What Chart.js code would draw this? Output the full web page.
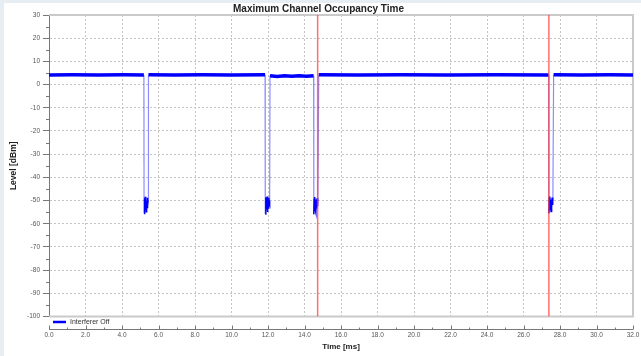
<!DOCTYPE html>
<html>
<head>
<meta charset="utf-8">
<title>Maximum Channel Occupancy Time</title>
<script src="https://cdn.jsdelivr.net/npm/chart.js@4.4.1/dist/chart.umd.min.js"></script>
<style>
    html, body { margin: 0; padding: 0; background: #e6eef3; overflow: hidden; }
    #panel { position: absolute; left: 4px; top: 3px; width: 637px; height: 353px; background: #fff; }
    #occupancyChart { display: block; }
</style>
</head>
<body>
<div id="panel"><canvas id="occupancyChart" width="637" height="353"></canvas></div>
<script>
// ==========================================
// DATA
// ==========================================

// Measured trace: time (ms) and level (dBm)
const traceTime = [
    0.0, 1.3, 2.7, 4.1, 5.20,
    5.21, 5.23, 5.25, 5.27, 5.29, 5.31, 5.33, 5.35, 5.37, 5.39, 5.41, 5.43,
    5.45, 6.9, 8.4, 10.0, 11.84,
    11.85, 11.87, 11.89, 11.91, 11.93, 11.95, 11.97, 11.99, 12.01, 12.03, 12.05, 12.07, 12.09,
    12.11, 12.5, 12.9, 13.3, 13.7, 14.1, 14.50,
    14.51, 14.53, 14.55, 14.57, 14.59, 14.61, 14.63, 14.65, 14.67, 14.69, 14.71, 14.73,
    14.78, 16.9, 19.3, 21.8, 24.5, 27.38,
    27.39, 27.41, 27.43, 27.45, 27.47, 27.49, 27.51, 27.53, 27.55, 27.57, 27.59, 27.61,
    27.65, 29.2, 30.7, 32.0
];
const traceLevel = [
    4.1, 4.2, 4.1, 4.2, 4.1,
    -55.6, -49.0, -54.2, -48.4, -53.6, -49.4, -54.8, -50.1, -53.0, -48.8, -52.2, -50.0,
    4.2, 4.1, 4.2, 4.1, 4.2,
    -55.8, -48.6, -54.5, -49.2, -53.8, -48.3, -54.9, -49.8, -53.2, -48.9, -52.6, -50.3, -51.0,
    3.8, 3.5, 3.8, 3.6, 3.8, 3.6, 3.8,
    -55.9, -49.1, -54.6, -48.5, -53.9, -49.6, -55.0, -50.2, -53.4, -49.0, -52.5, -50.4,
    4.2, 4.1, 4.2, 4.1, 4.2, 4.1,
    -55.5, -48.8, -54.3, -48.3, -53.5, -49.5, -54.7, -50.0, -52.8, -48.7, -51.9, -50.2,
    4.2, 4.1, 4.2, 4.1
];

// Cursor markers (ms)
const cursorTimes = [14.72, 27.39];

// Axis ticks
const levelTicks = [-100, -90, -80, -70, -60, -50, -40, -30, -20, -10, 0, 10, 20, 30];
const timeTicks = [0, 2, 4, 6, 8, 10, 12, 14, 16, 18, 20, 22, 24, 26, 28, 30, 32];

const traceLabel = 'Interferer Off';
const traceColor = '#0000ff';

// ==========================================
// HELPERS
// ==========================================

function segKind(ctx) {
    const a = ctx.p0.parsed.y, b = ctx.p1.parsed.y;
    if (a > -20 && b > -20) return 'flat';
    if (a < -40 && b < -40) return 'floor';
    return 'edge';
}

// frame, minor ticks, detached time axis and legend
const chartDecor = {
    id: 'chartDecor',
    beforeDatasetsDraw(chart) {
        const { ctx, chartArea: a, scales: { y } } = chart;
        ctx.save();
        ctx.strokeStyle = '#cacaca';
        ctx.lineWidth = 2;
        ctx.beginPath();
        ctx.moveTo(a.left, a.top);
        ctx.lineTo(a.right, a.top);
        ctx.lineTo(a.right, a.bottom);
        ctx.lineTo(a.left, a.bottom);
        ctx.stroke();

        // minor level ticks
        ctx.strokeStyle = '#777';
        ctx.lineWidth = 1;
        ctx.beginPath();
        for (let i = 0; i < levelTicks.length - 1; i++) {
            const py = Math.round(y.getPixelForValue((levelTicks[i] + levelTicks[i + 1]) / 2)) + 0.5;
            ctx.moveTo(a.left - 3, py);
            ctx.lineTo(a.left, py);
        }
        ctx.stroke();
        ctx.restore();
    },
    afterDraw(chart) {
        const { ctx, chartArea: a, scales: { x } } = chart;
        const axisY = Math.round(a.bottom + 12) + 0.5;
        ctx.save();
        ctx.strokeStyle = '#777';
        ctx.lineWidth = 1;
        ctx.beginPath();
        ctx.moveTo(a.left, axisY);
        ctx.lineTo(a.right, axisY);
        timeTicks.forEach((t, i) => {
            const px = Math.round(x.getPixelForValue(t)) + 0.5;
            ctx.moveTo(px, axisY);
            ctx.lineTo(px, axisY - 4);
            if (i < timeTicks.length - 1) {
                const mx = Math.round(x.getPixelForValue((t + timeTicks[i + 1]) / 2)) + 0.5;
                ctx.moveTo(mx, axisY);
                ctx.lineTo(mx, axisY - 2);
            }
        });
        ctx.stroke();

        // legend
        const ly = Math.round(a.bottom + 5);
        ctx.strokeStyle = traceColor;
        ctx.lineWidth = 2.5;
        ctx.beginPath();
        ctx.moveTo(a.left + 4, ly);
        ctx.lineTo(a.left + 17, ly);
        ctx.stroke();
        ctx.fillStyle = '#333';
        ctx.font = '7px "Liberation Sans", Arial, sans-serif';
        ctx.textBaseline = 'middle';
        ctx.textAlign = 'left';
        ctx.fillText(traceLabel, a.left + 21, ly);
        ctx.restore();
    }
};

// ==========================================
// CHART
// ==========================================

Chart.defaults.font.family = '"Liberation Sans", Arial, sans-serif';

const tracePoints = traceTime.map((t, i) => ({ x: t, y: traceLevel[i] }));
const cursorSets = cursorTimes.map(t => ({
    label: 'cursor',
    data: [{ x: t, y: levelTicks[levelTicks.length - 1] }, { x: t, y: levelTicks[0] }],
    borderColor: 'rgba(255, 60, 60, 0.75)',
    borderWidth: 1.5,
    pointRadius: 0
}));

new Chart(document.getElementById('occupancyChart'), {
    type: 'line',
    data: {
        datasets: [
            ...cursorSets,
            {
                label: traceLabel,
                data: tracePoints,
                borderColor: traceColor,
                borderWidth: 3.5,
                pointRadius: 0,
                tension: 0,
                segment: {
                    borderColor: ctx => segKind(ctx) === 'edge' ? 'rgba(0, 0, 255, 0.45)' : traceColor,
                    borderWidth: ctx => ({ flat: 3.5, floor: 1.5, edge: 1.2 })[segKind(ctx)]
                }
            }
        ]
    },
    options: {
        responsive: false,
        animation: false,
        layout: { padding: { left: 0, right: 8, top: 0, bottom: 0 } },
        plugins: {
            legend: { display: false },
            tooltip: { enabled: false },
            title: {
                display: true,
                text: 'Maximum Channel Occupancy Time',
                color: '#222',
                font: { size: 10, weight: 'bold' },
                padding: { top: 0, bottom: 0 }
            }
        },
        scales: {
            x: {
                type: 'linear',
                min: 0,
                max: 32,
                afterBuildTicks: s => { s.ticks = timeTicks.map(v => ({ value: v })); },
                afterFit: s => { s.height = 39.5; },
                border: { display: false, dash: [2, 2] },
                // invisible tick marks leave room for the legend row above the labels
                grid: { color: '#c4c4c4', drawTicks: true, tickLength: 14, tickColor: 'rgba(0,0,0,0)' },
                ticks: {
                    color: '#555',
                    font: { size: 6.5 },
                    padding: 0.5,
                    maxRotation: 0,
                    autoSkip: false,
                    callback: v => Number(v).toFixed(1)
                },
                title: {
                    display: true,
                    text: 'Time [ms]',
                    color: '#222',
                    font: { size: 8, weight: 'bold' },
                    padding: { top: 0, bottom: 4.5 }
                }
            },
            y: {
                min: -100,
                max: 30,
                afterBuildTicks: s => { s.ticks = levelTicks.map(v => ({ value: v })); },
                afterFit: s => { s.width = 45; },
                border: { display: true, color: '#777', width: 1, dash: [2, 2] },
                grid: { color: '#c4c4c4', tickColor: '#777', tickLength: 6 },
                ticks: {
                    color: '#555',
                    font: { size: 6.5 },
                    padding: 3
                },
                title: {
                    display: true,
                    text: 'Level [dBm]',
                    color: '#222',
                    font: { size: 8.5, weight: 'bold' },
                    padding: { top: 5, bottom: 0 }
                }
            }
        }
    },
    plugins: [chartDecor]
});
</script>
</body>
</html>
